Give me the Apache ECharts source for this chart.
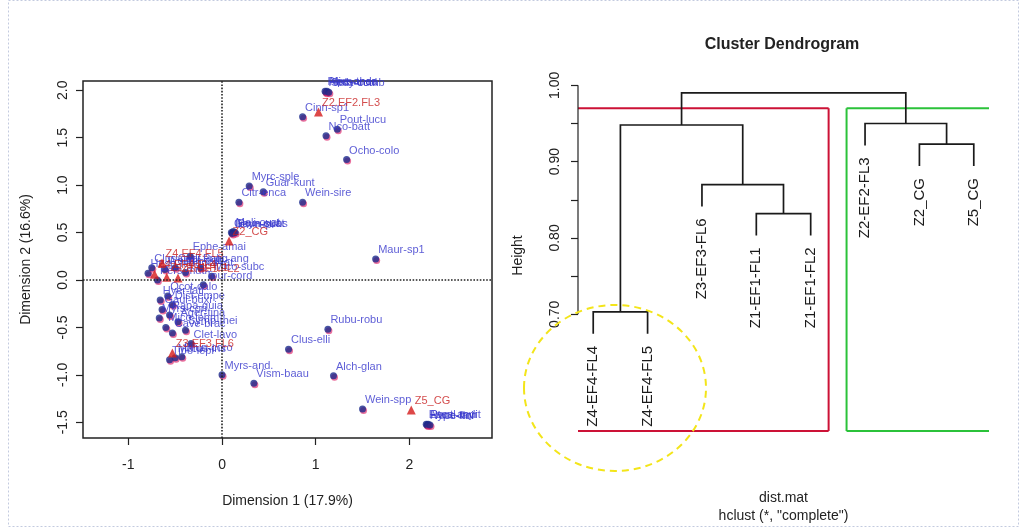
<!DOCTYPE html>
<html><head><meta charset="utf-8">
<script src="https://cdn.jsdelivr.net/npm/echarts@6/dist/echarts.min.js"></script>
<style>html,body{margin:0;padding:0;background:#fff}#c{width:1022px;height:530px}</style>
</head><body><div id="c"></div>
<script>
// ---------- Correspondence analysis (left panel) ----------
const speciesNames = [
  "Hedy-cumb","Mico-thea","Pipe-andr","Sola-ocul",
  "Cinn-sp1","Pout-lucu","Nco-batt","Ocho-colo",
  "Myrc-sple","Guar-kunt","Citr-enca","Wein-sire","Maur-sp1",
  "Gayn-cuat","Meli-ovat","Ilex-rupi","Brun-subs",
  "Hesp-ferr","Clus-mult","Pers-muti","Weinm-pub","Ceci-angu","Baccs-lat",
  "Ephe-amai","Mico-subc","Tour-cord","Palic-ang",
  "Hyer-lati","Ocot-calo","Gaul-buxi","Dist-empe","Myrs-cori","Rapa-guia",
  "Mico-lehm","Ager-tina","Cave-brac","Symp-thei","Clet-lavo",
  "Tibo-lepi","Morus-ins","Brun-coro",
  "Myrs-and.","Vism-baau","Clus-elli","Rubu-robu","Alch-glan","Wein-spp",
  "Escal-myrt","Hype-lari","Pent-andi","Vacc-flor"
];
const speciesDim1 = [
  1.11, 1.12, 1.10, 1.14,
  0.86, 1.23, 1.11, 1.33,
  0.29, 0.44, 0.18, 0.86, 1.64,
  0.10, 0.12, 0.11, 0.14,
  -0.79, -0.75, -0.69, -0.61, -0.50, -0.39,
  -0.34, -0.11, -0.20, -0.23,
  -0.66, -0.58, -0.64, -0.53, -0.67, -0.56,
  -0.60, -0.47, -0.53, -0.39, -0.33,
  -0.56, -0.50, -0.43,
  0.00, 0.34, 0.71, 1.13, 1.19, 1.50,
  2.18, 2.19, 2.20, 2.22
];
const speciesDim2 = [
  1.98, 1.99, 1.99, 1.98,
  1.72, 1.59, 1.52, 1.27,
  0.99, 0.93, 0.82, 0.82, 0.22,
  0.50, 0.51, 0.49, 0.50,
  0.07, 0.13, 0.00, 0.11, 0.13, 0.08,
  0.25, 0.04, -0.05, 0.13,
  -0.21, -0.17, -0.31, -0.26, -0.40, -0.37,
  -0.50, -0.44, -0.56, -0.53, -0.67,
  -0.84, -0.82, -0.81,
  -1.00, -1.09, -0.73, -0.52, -1.01, -1.36,
  -1.52, -1.53, -1.52, -1.53
];
const siteNames = ["Z1.EF1.FL1","Z1.EF1.FL2","Z2.EF2.FL3","Z4.EF4.FL4","Z4.EF4.FL5","Z3.EF3.FL6","Z2_CG","Z5_CG"];
const siteDim1 = [-0.59, -0.47, 1.03, -0.72, -0.64, -0.53, 0.075, 2.02];
const siteDim2 = [0.03, 0.02, 1.77, 0.06, 0.18, -0.77, 0.41, -1.37];
const dim1Ticks = [-1, 0, 1, 2];
const dim2Ticks = [-1.5, -1.0, -0.5, 0.0, 0.5, 1.0, 1.5, 2.0];

// ---------- Cluster dendrogram (right panel) ----------
const leafLabels = ["Z4-EF4-FL4","Z4-EF4-FL5","Z3-EF3-FL6","Z1-EF1-FL1","Z1-EF1-FL2","Z2-EF2-FL3","Z2_CG","Z5_CG"];
// R-style merge matrix (negative = leaf position, positive = earlier merge)
const mergeLeft   = [-1, -4, -7, -3, -6, 1, 6];
const mergeRight  = [-2, -5, -8,  2,  3, 4, 5];
const mergeHeight = [0.703, 0.832, 0.923, 0.870, 0.950, 0.948, 0.990];
const heightTicks  = [0.70, 0.75, 0.80, 0.85, 0.90, 0.95, 1.00];
const heightLabels = [0.70, 0.80, 0.90, 1.00];
const clusterFirst = [1, 6];
const clusterLast  = [5, 8];
const clusterColor = ["#cc1236", "#2bc23a"];

const FONT = '"Liberation Sans", Arial, Helvetica, sans-serif';
const INK = '#222';

// scatter extents
const X1 = [-1.484, 2.882], Y1 = [-1.666, 2.098];
// dendrogram extents (R usr)
const nLeaf = leafLabels.length;
const X2 = [1 - 0.04 * (nLeaf - 1), nLeaf + 0.04 * (nLeaf - 1)];
const Y2 = [0.547, 1.007];

const hMax = Math.max(...mergeHeight), hMin = Math.min(...mergeHeight);
const hang = 0.1 * (hMax - hMin);
const nodeX = [];
const cx = c => c < 0 ? -c : nodeX[c - 1];
const leafBottom = new Array(nLeaf);
mergeLeft.forEach((l, i) => {
  const r = mergeRight[i];
  nodeX[i] = (cx(l) + cx(r)) / 2;
  [l, r].forEach(c => { if (c < 0) leafBottom[-c - 1] = mergeHeight[i] - hang; });
});
const cy = (c, h) => c < 0 ? h - hang : mergeHeight[c - 1];
const sortedH = mergeHeight.slice().sort((a, b) => b - a);
const rectTop = (sortedH[0] + sortedH[1]) / 2;

const chart = echarts.init(document.getElementById('c'));

const blueLabel = {
  show: true, position: 'right', distance: 0, offset: [-1, -9],
  color: '#3434cc', fontSize: 11, fontFamily: FONT,
  textShadowColor: 'rgba(225,60,170,0.55)', textShadowOffsetX: 1, textShadowOffsetY: 1, textShadowBlur: 0
};

chart.setOption({
  backgroundColor: '#fff',
  animation: false,
  grid: [
    { left: 83, top: 81, width: 409, height: 357, show: true, borderColor: INK, borderWidth: 1.5, backgroundColor: 'transparent' },
    { left: 578, top: 80, width: 411, height: 357, show: false }
  ],
  xAxis: [
    { type: 'value', gridIndex: 0, position: 'bottom', min: X1[0], max: X1[1], splitLine: { show: false },
      axisLine: { show: false, onZero: false },
      axisTick: { show: true, customValues: dim1Ticks, length: 7, lineStyle: { color: INK, width: 1.2 } },
      axisLabel: { customValues: dim1Ticks, margin: 20, fontSize: 14, color: INK, fontFamily: FONT },
      name: 'Dimension 1 (17.9%)', nameLocation: 'middle', nameGap: 56,
      nameTextStyle: { fontSize: 14, color: INK, fontFamily: FONT } },
    { type: 'value', gridIndex: 1, position: 'bottom', min: X2[0], max: X2[1], splitLine: { show: false },
      axisLine: { show: false, onZero: false }, axisTick: { show: false }, axisLabel: { show: false },
      name: 'dist.mat\nhclust (*, "complete")', nameLocation: 'middle', nameGap: 58,
      nameTextStyle: { fontSize: 14, color: INK, fontFamily: FONT, lineHeight: 18 } }
  ],
  yAxis: [
    { type: 'value', gridIndex: 0, position: 'left', min: Y1[0], max: Y1[1], splitLine: { show: false },
      axisLine: { show: false, onZero: false },
      axisTick: { show: true, customValues: dim2Ticks, length: 7, lineStyle: { color: INK, width: 1.2 } },
      axisLabel: { customValues: dim2Ticks, rotate: 90, margin: 13, fontSize: 14, color: INK, fontFamily: FONT,
                   formatter: v => v.toFixed(1) },
      name: 'Dimension 2 (16.6%)', nameLocation: 'middle', nameGap: 50,
      nameTextStyle: { fontSize: 14, color: INK, fontFamily: FONT } },
    { type: 'value', gridIndex: 1, position: 'left', min: Y2[0], max: Y2[1], splitLine: { show: false },
      axisLine: { show: false, onZero: false },
      axisTick: { show: true, customValues: heightTicks, length: 7, lineStyle: { color: INK, width: 1.2 } },
      axisLabel: { customValues: heightLabels, rotate: 90, margin: 16, fontSize: 14, color: INK, fontFamily: FONT,
                   formatter: v => v.toFixed(2) },
      name: 'Height', nameLocation: 'middle', nameGap: 53,
      nameTextStyle: { fontSize: 14, color: INK, fontFamily: FONT } }
  ],
  series: [
    {
      name: 'species', type: 'scatter', xAxisIndex: 0, yAxisIndex: 0,
      symbol: 'circle', symbolSize: 7,
      itemStyle: { color: '#1c2a8c', shadowColor: 'rgba(220,30,100,0.8)', shadowOffsetX: 1, shadowOffsetY: 1.5, shadowBlur: 0 },
      label: Object.assign({}, blueLabel, { formatter: p => speciesNames[p.dataIndex] }),
      data: speciesDim1.map((x, i) => [x, speciesDim2[i]]),
      markLine: {
        silent: true, symbol: 'none', label: { show: false }, animation: false,
        lineStyle: { type: 'dotted', color: INK, width: 1.6 },
        data: [{ xAxis: 0 }, { yAxis: 0 }]
      },
      z: 3
    },
    {
      name: 'sites', type: 'scatter', xAxisIndex: 0, yAxisIndex: 0,
      symbol: 'triangle', symbolSize: 9,
      itemStyle: { color: '#d41a1a' },
      label: { show: true, position: 'right', distance: 0, offset: [-1, -9], color: '#c81e1e',
               fontSize: 11, fontFamily: FONT, formatter: p => siteNames[p.dataIndex] },
      data: siteDim1.map((x, i) => [x, siteDim2[i]]),
      z: 4
    },
    {
      name: 'heightAxis', type: 'line', xAxisIndex: 1, yAxisIndex: 1, symbol: 'none', silent: true,
      lineStyle: { color: INK, width: 1.2 },
      data: [[X2[0], heightTicks[0]], [X2[0], heightTicks[heightTicks.length - 1]]]
    },
    {
      name: 'rects', type: 'custom', xAxisIndex: 1, yAxisIndex: 1, silent: true,
      data: clusterFirst.map((f, i) => [f - 1 + 0.66, clusterLast[i] + 0.33, i]),
      renderItem: (params, api) => {
        const i = params.dataIndex;
        const l = clusterFirst[i] - 1 + 0.66, r = clusterLast[i] + 0.33;
        const lc = Math.max(l, X2[0]), rc = Math.min(r, X2[1]);
        const tl = api.coord([lc, rectTop]), tr = api.coord([rc, rectTop]);
        const bl = api.coord([lc, Y2[0]]), br = api.coord([rc, Y2[0]]);
        const st = { stroke: clusterColor[i], lineWidth: 2 };
        const ch = [
          { type: 'line', shape: { x1: tl[0], y1: tl[1], x2: tr[0], y2: tr[1] }, style: st },
          { type: 'line', shape: { x1: bl[0], y1: bl[1], x2: br[0], y2: br[1] }, style: st }
        ];
        if (l >= X2[0]) ch.push({ type: 'line', shape: { x1: tl[0], y1: tl[1], x2: bl[0], y2: bl[1] }, style: st });
        if (r <= X2[1]) ch.push({ type: 'line', shape: { x1: tr[0], y1: tr[1], x2: br[0], y2: br[1] }, style: st });
        return { type: 'group', children: ch };
      },
      z: 2
    },
    {
      name: 'dendrogram', type: 'custom', xAxisIndex: 1, yAxisIndex: 1, silent: true,
      data: mergeHeight.map((h, i) => [nodeX[i], h]),
      renderItem: (params, api) => {
        const i = params.dataIndex, h = mergeHeight[i];
        const l = mergeLeft[i], r = mergeRight[i];
        const pts = [
          api.coord([cx(l), cy(l, h)]), api.coord([cx(l), h]),
          api.coord([cx(r), h]), api.coord([cx(r), cy(r, h)])
        ];
        return { type: 'polyline', shape: { points: pts }, style: { stroke: '#1a1a1a', lineWidth: 1.7, fill: null } };
      },
      z: 3
    },
    {
      name: 'leaves', type: 'custom', xAxisIndex: 1, yAxisIndex: 1, silent: true,
      data: leafLabels.map((s, i) => [i + 1, leafBottom[i]]),
      renderItem: (params, api) => {
        const i = params.dataIndex;
        const p = api.coord([i + 1, leafBottom[i]]);
        return { type: 'text', x: p[0], y: p[1] + 12, rotation: Math.PI / 2,
                 style: { text: leafLabels[i], x: 0, y: 0, align: 'right', verticalAlign: 'middle',
                          fill: '#1a1a1a', font: '15px ' + FONT } };
      },
      z: 3
    }
  ],
  graphic: [
    { type: 'rect', z: -1, silent: true, shape: { x: 8.5, y: 0.5, width: 1010, height: 526 },
      style: { fill: null, stroke: '#c3cadf', lineWidth: 1, lineDash: [2, 2] } },
    { type: 'text', x: 782, y: 45, silent: true,
      style: { text: 'Cluster Dendrogram', align: 'center', verticalAlign: 'middle', fill: INK,
               font: 'bold 16px ' + FONT } },
    { type: 'ellipse', z: 100, silent: true, shape: { cx: 615, cy: 388, rx: 91, ry: 83 },
      style: { fill: null, stroke: '#f3e51a', lineWidth: 2, lineDash: [7, 5] } }
  ]
});
</script>
</body></html>
